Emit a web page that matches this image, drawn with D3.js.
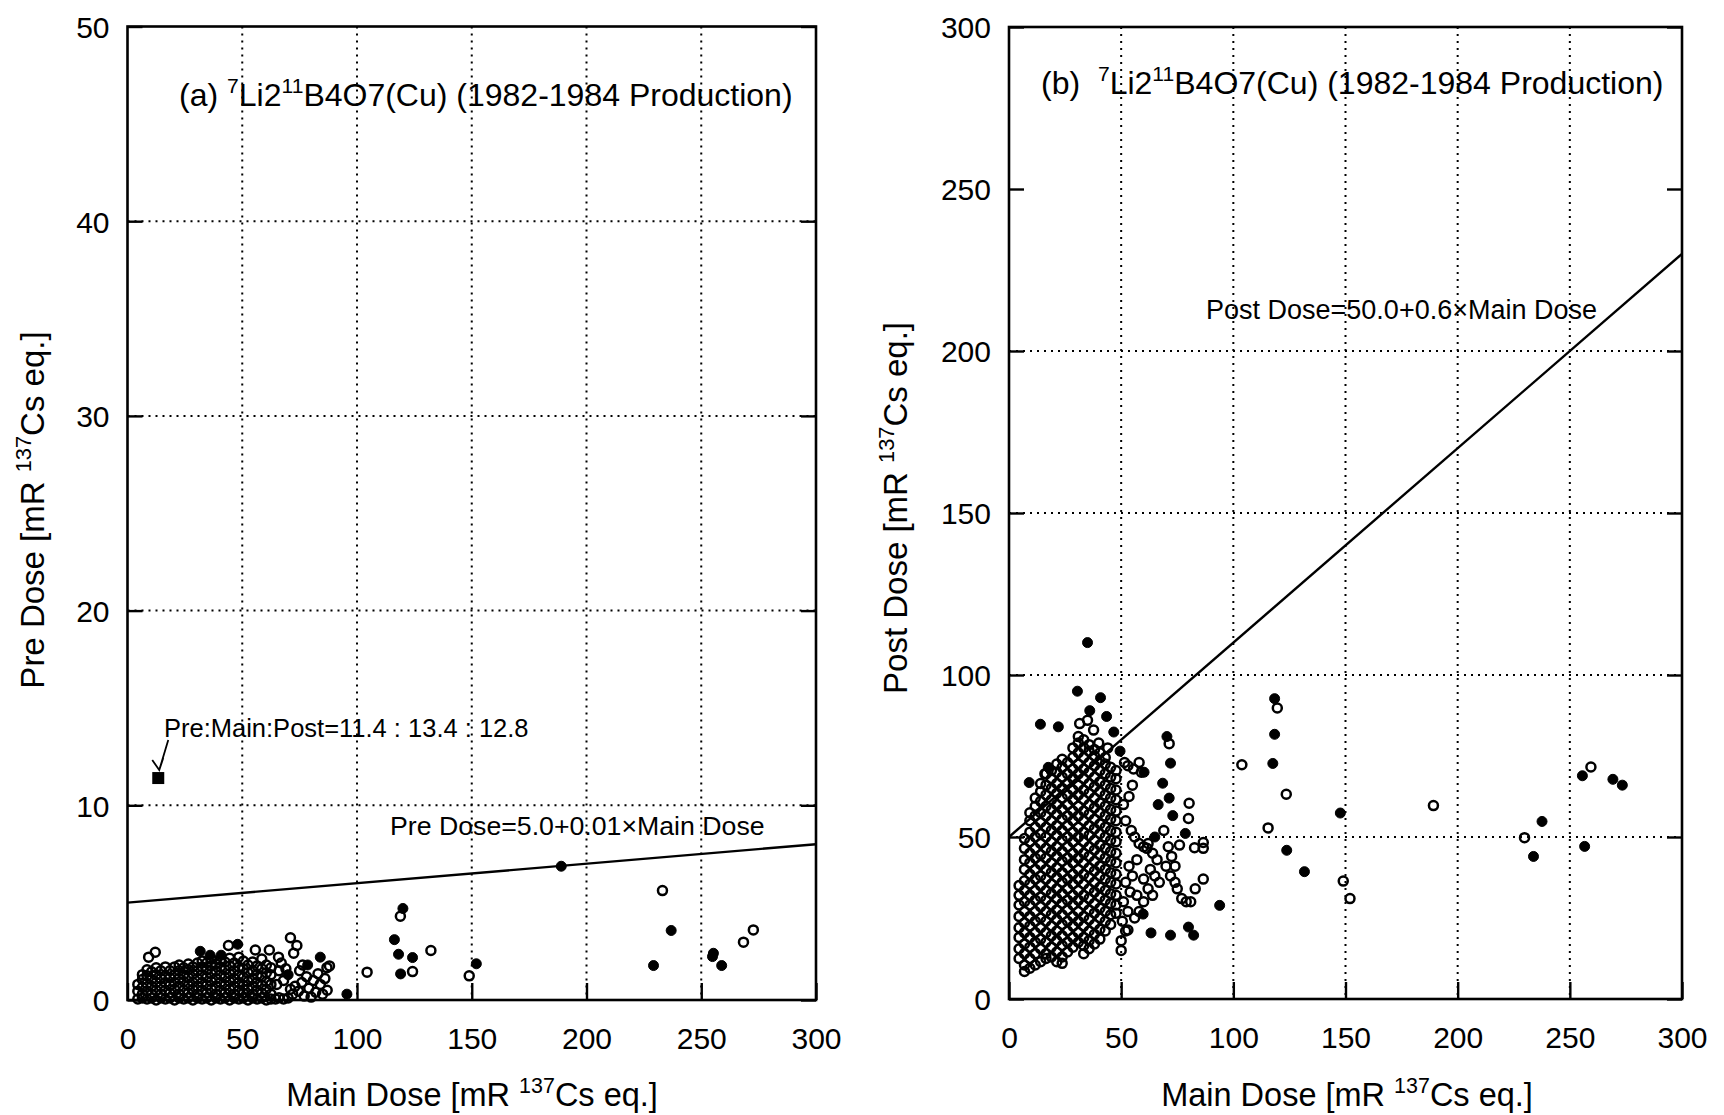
<!DOCTYPE html>
<html>
<head>
<meta charset="utf-8">
<script src="https://cdn.jsdelivr.net/npm/d3@7"></script>
<style>
  html, body { margin: 0; padding: 0; background: #fff; }
  svg text { font-family: "Liberation Sans", Arial, sans-serif; fill: #000; white-space: pre; }
</style>
</head>
<body>
<svg id="chart" width="1724" height="1115"></svg>
<script>
// ---------------- DATA ----------------
const xTicks = [0, 50, 100, 150, 200, 250, 300];
const xGrid = [50, 100, 150, 200, 250];
const preTicks = [0, 10, 20, 30, 40, 50];
const preGrid = [10, 20, 30, 40];
const postTicks = [0, 50, 100, 150, 200, 250, 300];
const postGrid = [50, 100, 150, 200];

const preFit = { intercept: 5.0, slope: 0.01 };
const postFit = { intercept: 50.0, slope: 0.6 };

// special detector (Pre : Main : Post)
const specialPoint = { pre: 11.4, main: 13.4, post: 12.8 };

// (a) dense cluster: [main dose, [pre dose values]]
const preClusterCols = [
  [4.5, [0.05, 0.45, 0.8]],
  [6.5, [0.1, 0.3, 0.65, 1.05, 1.3]],
  [8.5, [0.05, 0.45, 0.85, 1.25, 1.55]],
  [10.5, [0.1, 0.3, 0.7, 1.05, 1.45]],
  [12.5, [0.0, 0.5, 0.9, 1.3, 1.65]],
  [14.5, [0.1, 0.3, 0.7, 1.1, 1.5]],
  [16.5, [0.05, 0.5, 0.9, 1.25, 1.7]],
  [18.5, [0.1, 0.35, 0.75, 1.15, 1.5]],
  [20.5, [0.0, 0.55, 0.9, 1.3, 1.7]],
  [22.5, [0.1, 0.3, 0.7, 1.1, 1.5, 1.8]],
  [24.5, [0.05, 0.5, 0.95, 1.3, 1.65]],
  [26.5, [0.1, 0.35, 0.75, 1.15, 1.55, 1.85]],
  [28.5, [0.0, 0.55, 0.9, 1.35, 1.7]],
  [30.5, [0.1, 0.3, 0.7, 1.1, 1.5, 1.9]],
  [32.5, [0.05, 0.5, 0.9, 1.3, 1.7, 2.0]],
  [34.5, [0.1, 0.35, 0.75, 1.15, 1.55, 1.9]],
  [36.5, [0.0, 0.55, 0.95, 1.35, 1.75, 2.1]],
  [38.5, [0.1, 0.3, 0.7, 1.1, 1.5, 1.85]],
  [40.5, [0.05, 0.5, 0.9, 1.3, 1.7, 2.05]],
  [42.5, [0.1, 0.35, 0.75, 1.15, 1.55, 1.95]],
  [44.5, [0.0, 0.55, 0.95, 1.35, 1.75, 2.15]],
  [46.5, [0.1, 0.3, 0.7, 1.1, 1.5, 1.9]],
  [48.5, [0.05, 0.5, 0.9, 1.3, 1.7, 2.2]],
  [50.5, [0.1, 0.35, 0.75, 1.15, 1.6, 2.0]],
  [52.5, [0.0, 0.55, 0.95, 1.4, 1.8]],
  [54.5, [0.1, 0.3, 0.7, 1.1, 1.5, 1.95]],
  [56.5, [0.05, 0.5, 0.9, 1.3, 1.75]],
  [58.5, [0.1, 0.35, 0.75, 1.2, 1.6, 2.1]],
  [60.5, [0.0, 0.55, 0.95, 1.4, 1.8]],
  [62.5, [0.05, 0.3, 0.8, 1.3, 1.65]]
];

// (a) scattered points: [main, pre, filled]
const preScatter = [
  [64.5,0.05,0],[66,0.12,0],[68,0.05,0],[70,0.1,0],[72,0.3,0],[73,0.7,0],[74.5,0.45,0],[76,0.9,0],
  [77,0.2,0],[78,1.2,0],[79,0.6,0],[80,0.15,0],[81,1.0,0],[82,0.4,0],[83,1.35,0],[84,0.8,0],
  [85,0.3,0],[86,1.1,0],[87,0.5,0],[88,1.75,0],[66,1.5,0],[68,1.0,0],[70,1.3,1],[71,0.55,0],
  [65,0.8,0],[67,1.9,0],[69,1.6,0],[75,1.5,0],[78.5,1.8,1],[86.9,1.66,0],
  [9.2,2.2,0],[12.1,2.45,0],[31.7,2.5,1],[36,2.3,1],[40.8,2.3,1],[44,2.8,0],[48,2.86,1],
  [55.7,2.57,0],[61.8,2.57,0],[65.8,2.2,0],[71,3.2,0],[73.8,2.8,0],[72.4,2.4,0],[76.3,1.8,0],
  [84,2.2,1],[95.6,0.3,1]
];
const preOutliers = [
  [104.4,1.43,0],[120,4.7,1],[118.9,4.3,0],[116.3,3.1,1],[118.1,2.35,1],[124.2,2.18,1],[119,1.34,1],
  [124.2,1.46,0],[132.2,2.54,0],[148.9,1.24,0],[152,1.86,1],[189,6.87,1],[233.1,5.62,0],[236.9,3.57,1],
  [229.2,1.77,1],[255.3,2.4,1],[254.9,2.23,1],[258.9,1.77,1],[268.4,2.97,0],[272.7,3.6,0]
];

// (b) dense cluster: [main dose, [post dose values]]
const postClusterCols = [
  [4.5, [12.5, 15.5, 19, 22, 25.5, 29, 32, 35]],
  [6.9, [8.5, 10.5, 14, 17, 20.5, 23.5, 27, 30, 33.5, 36.5, 40, 43, 46.5, 49.5]],
  [9.3, [9.5, 12.5, 16, 19, 22.5, 25.5, 29, 32, 35.5, 38.5, 42, 45, 48.5, 51.5, 55, 57.5]],
  [11.7, [10.5, 14, 17.5, 20.5, 24, 27, 30.5, 33.5, 37, 40, 43.5, 46.5, 50, 53, 56.5, 59.5, 62]],
  [14.1, [11.5, 15.5, 18.5, 22, 25, 28.5, 31.5, 35, 38, 41.5, 44.5, 48, 51, 54.5, 57.5, 61, 64, 66.5]],
  [16.5, [12.5, 14, 17.5, 20.5, 24, 27, 30.5, 33.5, 37, 40, 43.5, 46.5, 50, 53, 56.5, 59.5, 63, 66, 69.5]],
  [18.9, [13, 16, 19.5, 22.5, 26, 29, 32.5, 35.5, 39, 42, 45.5, 48.5, 52, 55, 58.5, 61.5, 65, 68, 70.5]],
  [21.3, [11.5, 14.5, 18, 21, 24.5, 27.5, 31, 34, 37.5, 40.5, 44, 47, 50.5, 53.5, 57, 60, 63.5, 66.5, 70, 72.5]],
  [23.7, [11, 13, 16.5, 19.5, 23, 26, 29.5, 32.5, 36, 39, 42.5, 45.5, 49, 52, 55.5, 58.5, 62, 65, 68.5, 71.5, 74]],
  [26.1, [14.5, 17.5, 21, 24, 27.5, 30.5, 34, 37, 40.5, 43.5, 47, 50, 53.5, 56.5, 60, 63, 66.5, 69.5, 73]],
  [28.5, [16, 19, 22.5, 25.5, 29, 32, 35.5, 38.5, 42, 45, 48.5, 51.5, 55, 58, 61.5, 64.5, 68, 71, 74.5, 77.5]],
  [30.9, [17.5, 20.5, 24, 27, 30.5, 33.5, 37, 40, 43.5, 46.5, 50, 53, 56.5, 59.5, 63, 66, 69.5, 72.5, 76, 79, 81]],
  [33.3, [14, 16.5, 19, 22.5, 25.5, 29, 32, 35.5, 38.5, 42, 45, 48.5, 51.5, 55, 58, 61.5, 64.5, 68, 71, 74.5, 77.5, 80]],
  [35.7, [15.5, 18, 21, 24.5, 27.5, 31, 34, 37.5, 40.5, 44, 47, 50.5, 53.5, 57, 60, 63.5, 66.5, 70, 73, 76.5, 78.5]],
  [38.1, [17, 20, 23, 26.5, 29.5, 33, 36, 39.5, 42.5, 46, 49, 52.5, 55.5, 59, 62, 65.5, 68.5, 72, 75, 77]],
  [40.5, [18.5, 21.5, 25, 28, 31.5, 34.5, 38, 41, 44.5, 47.5, 51, 54, 57.5, 60.5, 64, 67, 70.5, 73.5, 76]],
  [42.9, [21, 24, 27, 30.5, 33.5, 37, 40, 43.5, 46.5, 50, 53, 56.5, 59.5, 63, 66, 69.5, 72.5, 74.5]],
  [45.3, [23, 26, 29.5, 32.5, 36, 39, 42.5, 45.5, 49, 52, 55.5, 58.5, 62, 65, 68.5, 71.5]],
  [47.7, [26.5, 29, 32, 35.5, 38.5, 42, 45, 48.5, 51.5, 55, 58, 61.5, 64.5, 68, 70.5]]
];

// (b) scattered points: [main, post, filled]
const postScatter = [
  [35,110,1],[30.5,95,1],[40.8,93,1],[36,89,1],[43.5,87.2,1],[14,84.8,1],[22,84,1],[46.7,82.4,1],[9,66.8,1],
  [31.5,85,0],[35,86,0],[37.7,83,0],[40,79,0],[44,77.5,0],[49.5,76.5,1],[17.5,71.5,1],[16,69.5,0],
  [51.5,73,0],[53,72,0],[55.5,71,0],[58,73,0],[59,70,0],[55,66,0],[53.5,62.5,0],[51,60,0],[52,55,0],
  [54.5,52,0],[56,50,0],[58,48,0],[60,47,0],[61.5,46.5,0],[57,43,0],[53.5,41,0],[55,38,0],[52,36,0],
  [54,33,0],[57,32,0],[51,30,0],[53,27,0],[50.5,24,0],[52,21,0],[50,18,0],[50,15,0],
  [60.2,70,1],[68.5,66.6,1],[71.4,62,1],[66.5,60,1],[80.3,60.4,0],[73,56.6,1],[80,55.7,0],[69,52,0],
  [78.6,51.1,1],[65,50,1],[62,48,0],[64,45,0],[66,43,0],[71,47,0],[72.5,44,0],[74,41,0],[76,47.5,0],
  [82.7,46.7,0],[86.6,48.3,0],[86.6,46.5,0],[63,40,0],[65,38,0],[67,36,0],[70,41,0],[72,38,0],[74,36,0],
  [75,34,0],[77,31,0],[79,30,0],[81,30,0],[83,34,0],[86.6,37,0],[60,37,0],[62,34,0],[64,32,0],[60,30,0],
  [58,27,0],[56,25,0],[53,21.3,0],[63.3,20.4,1],[72,19.7,1],[80,22.2,1],[82.3,19.7,1],[59.8,26.2,1],
  [93.9,28.9,1],[71.4,78.8,0],[70.4,81,1],[72,72.8,1]
];
const postOutliers = [
  [103.8,72.3,0],[118.4,92.7,1],[119.6,89.8,0],[118.4,81.7,1],[117.6,72.7,1],[123.6,63.2,0],[115.5,52.8,0],
  [123.8,45.9,1],[131.7,39.3,1],[147.7,57.4,1],[149,36.4,0],[152,31,0],[189.2,59.7,0],[229.8,49.8,0],
  [237.6,54.8,1],[233.8,44,1],[255.6,68.9,1],[259.4,71.6,0],[269.2,67.8,1],[273.4,66,1],[256.6,47.1,1]
];

// ---------------- DRAW ----------------
const svg = d3.select("#chart");
svg.append("rect").attr("width", 1724).attr("height", 1115).attr("fill", "#fff");

function rich(g, x, y, parts, size, anchor, transform) {
  const t = g.append("text").attr("x", x).attr("y", y)
    .attr("font-size", size).attr("text-anchor", anchor || "start");
  if (transform) t.attr("transform", transform);
  let raised = false;
  parts.forEach(p => {
    const sup = Array.isArray(p);
    const ts = t.append("tspan").text(sup ? p[0] : p);
    if (sup) { ts.attr("font-size", size * 0.66).attr("dy", -size * 0.4); raised = true; }
    else if (raised) { ts.attr("dy", size * 0.4); raised = false; }
  });
  return t;
}

function panel(cfg) {
  const g = svg.append("g");
  const x = d3.scaleLinear().domain([0, 300]).range([cfg.left, cfg.right]);
  const y = d3.scaleLinear().domain([0, cfg.yMax]).range([cfg.bottom, cfg.top]);

  // grid
  g.selectAll(".vg").data(xGrid).join("line")
    .attr("x1", d => x(d)).attr("x2", d => x(d)).attr("y1", cfg.top).attr("y2", cfg.bottom)
    .attr("stroke", "#000").attr("stroke-width", 2).attr("stroke-dasharray", "2,5");
  g.selectAll(".hg").data(cfg.yGrid).join("line")
    .attr("y1", d => y(d)).attr("y2", d => y(d)).attr("x1", cfg.left).attr("x2", cfg.right)
    .attr("stroke", "#000").attr("stroke-width", 2).attr("stroke-dasharray", "2,5");

  // axes with inward ticks
  const ax = d3.axisBottom(x).tickValues(xTicks).tickSize(-17).tickPadding(28).tickFormat(d3.format("d"));
  const axT = d3.axisTop(x).tickValues(xTicks).tickSize(0).tickFormat("");
  const ayL = d3.axisLeft(y).tickValues(cfg.yTicks).tickSize(-15).tickPadding(18).tickFormat(d3.format("d"));
  const ayR = d3.axisRight(y).tickValues(cfg.yTicks).tickSize(-15).tickFormat("");
  const styleAxis = s => {
    s.select(".domain").remove();
    s.selectAll("line").attr("stroke", "#000").attr("stroke-width", 2.4);
    s.selectAll("text").attr("font-size", 30).attr("fill", "#000")
      .attr("font-family", "'Liberation Sans', Arial, sans-serif");
  };
  g.append("g").attr("transform", `translate(0,${cfg.bottom})`).call(ax).call(styleAxis);
  g.append("g").attr("transform", `translate(0,${cfg.top})`).call(axT).call(styleAxis);
  g.append("g").attr("transform", `translate(${cfg.left},0)`).call(ayL).call(styleAxis)
    .selectAll("text").attr("dy", "0.36em");
  g.append("g").attr("transform", `translate(${cfg.right},0)`).call(ayR).call(styleAxis);

  // frame
  g.append("rect").attr("x", cfg.left).attr("y", cfg.top)
    .attr("width", cfg.right - cfg.left).attr("height", cfg.bottom - cfg.top)
    .attr("fill", "none").attr("stroke", "#000").attr("stroke-width", 2.6);

  // fit line
  const fit = cfg.fit;
  g.append("line")
    .attr("x1", x(0)).attr("y1", y(fit.intercept))
    .attr("x2", x(300)).attr("y2", y(fit.intercept + fit.slope * 300))
    .attr("stroke", "#000").attr("stroke-width", 2.4);

  // points
  const pts = cfg.cluster.flatMap(([m, vs]) => vs.map(v => [m, v, 0]))
    .concat(cfg.scatter, cfg.outliers);
  g.append("g").selectAll("circle").data(pts).join("circle")
    .attr("cx", d => x(d[0])).attr("cy", d => y(d[1]))
    .attr("r", d => d[2] ? 5.0 : 4.5)
    .attr("fill", d => d[2] ? "#000" : "none")
    .attr("stroke", "#000").attr("stroke-width", d => d[2] ? 1 : 2.5);

  return { g, x, y };
}

const A = panel({ left: 127.5, right: 816, top: 26.5, bottom: 1000, yMax: 50,
  yTicks: preTicks, yGrid: preGrid, fit: preFit,
  cluster: preClusterCols, scatter: preScatter, outliers: preOutliers });
const B = panel({ left: 1009, right: 1682, top: 27, bottom: 999, yMax: 300,
  yTicks: postTicks, yGrid: postGrid, fit: postFit,
  cluster: postClusterCols, scatter: postScatter, outliers: postOutliers });

// special point (filled square) with arrow + note
const sx = A.x(specialPoint.main), sy = A.y(specialPoint.pre);
A.g.append("rect").attr("x", sx - 6).attr("y", sy - 6).attr("width", 12).attr("height", 12).attr("fill", "#000");
A.g.append("path")
  .attr("d", `M${sx + 10},${sy - 38} L${sx + 1},${sy - 8} M${sx - 6},${sy - 18} L${sx + 1},${sy - 8} L${sx + 5},${sy - 20}`)
  .attr("fill", "none").attr("stroke", "#000").attr("stroke-width", 1.8);
A.g.append("text").attr("x", 164).attr("y", 737).attr("font-size", 25.5)
  .text(`Pre:Main:Post=${specialPoint.pre.toFixed(1)} : ${specialPoint.main.toFixed(1)} : ${specialPoint.post.toFixed(1)}`);

// fit labels
A.g.append("text").attr("x", 390).attr("y", 835).attr("font-size", 26.7)
  .text(`Pre Dose=${preFit.intercept.toFixed(1)}+${preFit.slope.toFixed(2)}×Main Dose`);
B.g.append("text").attr("x", 1206).attr("y", 319).attr("font-size", 27)
  .text(`Post Dose=${postFit.intercept.toFixed(1)}+${postFit.slope.toFixed(1)}×Main Dose`);

// in-plot titles
rich(svg, 179, 106, ["(a) ", ["7"], "Li2", ["11"], "B4O7(Cu) (1982-1984 Production)"], 32);
rich(svg, 1041, 94, ["(b)  ", ["7"], "Li2", ["11"], "B4O7(Cu) (1982-1984 Production)"], 32);

// axis titles
rich(svg, 472, 1106, ["Main Dose [mR ", ["137"], "Cs eq.]"], 32.5, "middle");
rich(svg, 1347, 1106, ["Main Dose [mR ", ["137"], "Cs eq.]"], 32.5, "middle");
rich(svg, 0, 0, ["Pre Dose [mR ", ["137"], "Cs eq.]"], 33, "middle", "translate(44,510) rotate(-90)");
rich(svg, 0, 0, ["Post Dose [mR ", ["137"], "Cs eq.]"], 33, "middle", "translate(907,508) rotate(-90)");
</script>
</body>
</html>
